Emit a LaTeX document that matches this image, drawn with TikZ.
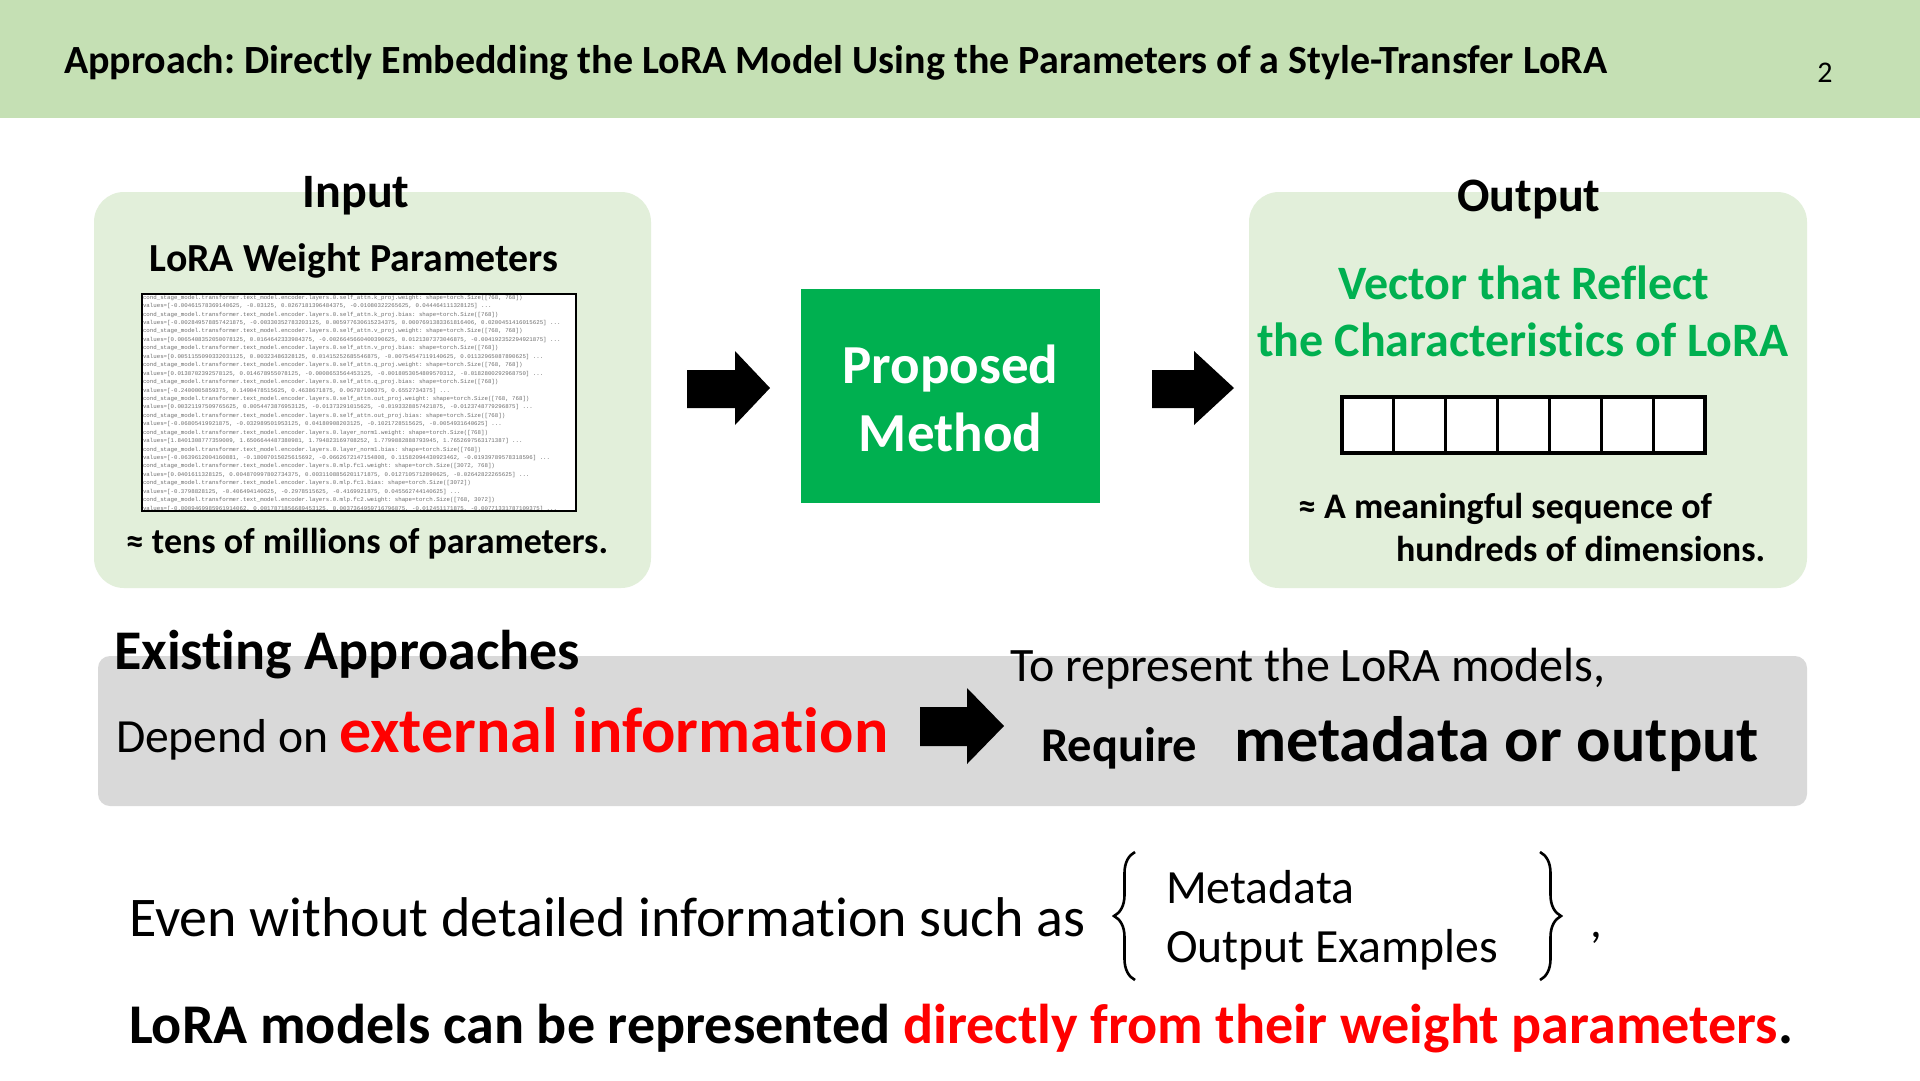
\documentclass[tikz,border=0pt]{standalone}
\usepackage{fontspec}
\setmainfont{Carlito}[Ligatures=NoCommon]
\newfontfamily\codefont{Liberation Mono}
\usetikzlibrary{decorations.pathreplacing}
\definecolor{hdr}{HTML}{C5E0B4}
\definecolor{panel}{HTML}{E2EFDA}
\definecolor{grayband}{HTML}{D9D9D9}
\definecolor{pgreen}{HTML}{00B050}
\definecolor{pred}{HTML}{FF0000}
\definecolor{codegray}{HTML}{6E6E6E}
\newcommand\fs[1]{\fontsize{#1}{#1}\selectfont}
\frenchspacing
\tikzset{
  panelbox/.style={fill=panel, rounded corners=30pt, anchor=north west},
  cell/.style={draw=black, line width=3pt, fill=white, minimum width=51.86pt, minimum height=56pt, anchor=north west},
  blockarrow/.style={fill=black},
  bracestyle/.style={line width=2.6pt, decorate, decoration={brace, amplitude=21pt, aspect=0.5}},
}
\begin{document}
\begin{tikzpicture}[x=1pt,y=-1pt, every node/.style={inner sep=0pt, outer sep=0pt}]
\useasboundingbox (0,0) rectangle (1920,1080);
\fill[white] (0,0) rectangle (1920,1080);
% header
\fill[hdr] (0,0) rectangle (1920,118);
\node[anchor=base west, font=\bfseries\fs{40}] (title) at (64,73) {Approach: Directly Embedding the LoRA Model Using the Parameters of a Style-Transfer LoRA};
\node[anchor=base, font=\fs{30}] (pnum) at (1825,82) {2};

% input panel
\node[panelbox, minimum width=557pt, minimum height=396pt] (inbox) at (94,192) {};
\node[anchor=base, font=\bfseries\fs{48}] (inT) at (356,207) {Input};
\node[anchor=base, font=\bfseries\fs{39.8}] (lwp) at (354,271) {LoRA Weight Parameters};
\fill[white] (142,294) rectangle (576,511);
\begin{scope}
\clip (142,294) rectangle (576,511);
\node[anchor=north west, font=\codefont\fontsize{5.75}{8.44}\selectfont, text=codegray, align=left] (code) at (143,295) {%
cond\_stage\_model.transformer.text\_model.encoder.layers.0.self\_attn.k\_proj.weight: shape=torch.Size([768, 768])\\
values=[-0.00461578369140625, -0.03125, 0.0267181396484375, -0.01080322265625, 0.044464111328125] ...\\
cond\_stage\_model.transformer.text\_model.encoder.layers.0.self\_attn.k\_proj.bias: shape=torch.Size([768])\\
values=[-0.002849578857421875, -0.00330352783203125, 0.005977630615234375, 0.0007691383361816406, 0.0200451416015625] ...\\
cond\_stage\_model.transformer.text\_model.encoder.layers.0.self\_attn.v\_proj.weight: shape=torch.Size([768, 768])\\
values=[0.0065408352050078125, 0.0164642333984375, -0.0026645660400390625, 0.0121307373046875, -0.004192352294921875] ...\\
cond\_stage\_model.transformer.text\_model.encoder.layers.0.self\_attn.v\_proj.bias: shape=torch.Size([768])\\
values=[0.0051155090332031125, 0.00323486328125, 0.01415252685546875, -0.00754547119140625, 0.01132965087890625] ...\\
cond\_stage\_model.transformer.text\_model.encoder.layers.0.self\_attn.q\_proj.weight: shape=torch.Size([768, 768])\\
values=[0.0138702392578125, 0.014678955078125, -0.0008653564453125, -0.0018053054809570312, -0.0182800292968750] ...\\
cond\_stage\_model.transformer.text\_model.encoder.layers.0.self\_attn.q\_proj.bias: shape=torch.Size([768])\\
values=[-0.2400005859375, 0.1490478515625, 0.4638671875, 0.06787109375, 0.6552734375] ...\\
cond\_stage\_model.transformer.text\_model.encoder.layers.0.self\_attn.out\_proj.weight: shape=torch.Size([768, 768])\\
values=[0.00321197509765625, 0.0054473876953125, -0.01373291015625, -0.0193328857421875, -0.0123748779296875] ...\\
cond\_stage\_model.transformer.text\_model.encoder.layers.0.self\_attn.out\_proj.bias: shape=torch.Size([768])\\
values=[-0.06805419921875, -0.032989501953125, 0.04180908203125, -0.1021728515625, -0.0054931640625] ...\\
cond\_stage\_model.transformer.text\_model.encoder.layers.0.layer\_norm1.weight: shape=torch.Size([768])\\
values=[1.8401308777359009, 1.6506644487380981, 1.794823169708252, 1.7799882888793945, 1.7652697563171387] ...\\
cond\_stage\_model.transformer.text\_model.encoder.layers.0.layer\_norm1.bias: shape=torch.Size([768])\\
values=[-0.0639612004160881, -0.18007015025615692, -0.0662672147154808, 0.11582094430923462, -0.01939789578318596] ...\\
cond\_stage\_model.transformer.text\_model.encoder.layers.0.mlp.fc1.weight: shape=torch.Size([3072, 768])\\
values=[0.0401611328125, 0.004870997802734375, 0.0031108856201171875, 0.0127105712890625, -0.02642822265625] ...\\
cond\_stage\_model.transformer.text\_model.encoder.layers.0.mlp.fc1.bias: shape=torch.Size([3072])\\
values=[-0.3798828125, -0.406494140625, -0.2978515625, -0.4169921875, 0.045562744140625] ...\\
cond\_stage\_model.transformer.text\_model.encoder.layers.0.mlp.fc2.weight: shape=torch.Size([768, 3072])\\
values=[-0.0009469985961914062, 0.0017871856689453125, 0.0037364959716796875, -0.012451171875, -0.00771331787109375] ...};
\end{scope}
\draw[line width=1.6pt] (142,294) rectangle (576,511);
\node[anchor=base, font=\bfseries\fs{36}] (tens) at (367,553) {≈ tens of millions of parameters.};

% arrow 1
\fill[blockarrow] (687,370) -- (735,370) -- (735,351) -- (770,388) -- (735,425) -- (735,408) -- (687,408) -- cycle;
% proposed method
\node[fill=pgreen, anchor=north west, minimum width=299pt, minimum height=214pt] (pmbox) at (801,289) {};
\node[anchor=base, font=\bfseries\fs{55}, text=white] (pm1) at (pmbox.center |- 0,383) {Proposed};
\node[anchor=base, font=\bfseries\fs{55}, text=white] (pm2) at (pmbox.center |- 0,451) {Method};
% arrow 2
\fill[blockarrow] (1152,370) -- (1194,370) -- (1194,351) -- (1234,388) -- (1194,425) -- (1194,408) -- (1152,408) -- cycle;

% output panel
\node[panelbox, minimum width=558pt, minimum height=396pt] (outbox) at (1249,192) {};
\node[anchor=base, font=\bfseries\fs{48}] (outT) at (1529,211) {Output};
\node[anchor=base, font=\bfseries\fs{48}, text=pgreen] (vec1) at (1524,299) {Vector that Reflect};
\node[anchor=base, font=\bfseries\fs{48}, text=pgreen] (vec2) at (1523,356) {the Characteristics of LoRA};
\foreach \i in {0,...,6} {
  \node[cell] (v\i) at ({1342+\i*51.86},397) {};
}
\draw[line width=4.5pt] (v0.north west) rectangle (v6.south east);
\node[anchor=base west, font=\bfseries\fs{36}] (seq1) at (1298,518) {≈ A meaningful sequence of};
\node[anchor=base west, font=\bfseries\fs{36}] (seq2) at (1396,561) {hundreds of dimensions.};

% existing approaches band
\node[fill=grayband, rounded corners=12pt, anchor=north west, minimum width=1709pt, minimum height=150pt] (band) at (98,656) {};
\node[anchor=base west, font=\bfseries\fs{56}] (exist) at (114,669) {Existing Approaches};
\node[anchor=base west] (depend) at (116,752) {\fs{47.6}Depend on {\bfseries\fs{64}\color{pred}external information}};
\fill[blockarrow] (920,707) -- (967,707) -- (967,688) -- (1004,726) -- (967,764) -- (967,746) -- (920,746) -- cycle;
\node[anchor=base west, font=\fs{48}] (torep) at (1010,681) {To represent the LoRA models,};
\node[anchor=base west, font=\bfseries\fs{48.5}] (req) at (1041,761) {Require};
\node[anchor=base west, font=\bfseries\fs{64.2}] (meta) at (1234,761) {metadata or output};

% bottom lines
\node[anchor=base west, font=\fs{56}] (even) at (129,936) {Even without detailed information such as};
\draw[bracestyle] (1135,980) -- (1135,852);
\node[anchor=base west, font=\fs{47.7}] (md) at (1166,903) {Metadata};
\node[anchor=base west, font=\fs{47.7}] (oe) at (1166,962) {Output Examples};
\draw[bracestyle] (1540,852) -- (1540,980);
\node[anchor=base west, font=\fs{47}] (comma) at (1590,937) {,};
\node[anchor=base west, font=\bfseries\fs{56.1}] (last) at (129,1043) {LoRA models can be represented {\color{pred}directly from their weight parameters}.};
\end{tikzpicture}
\end{document}
